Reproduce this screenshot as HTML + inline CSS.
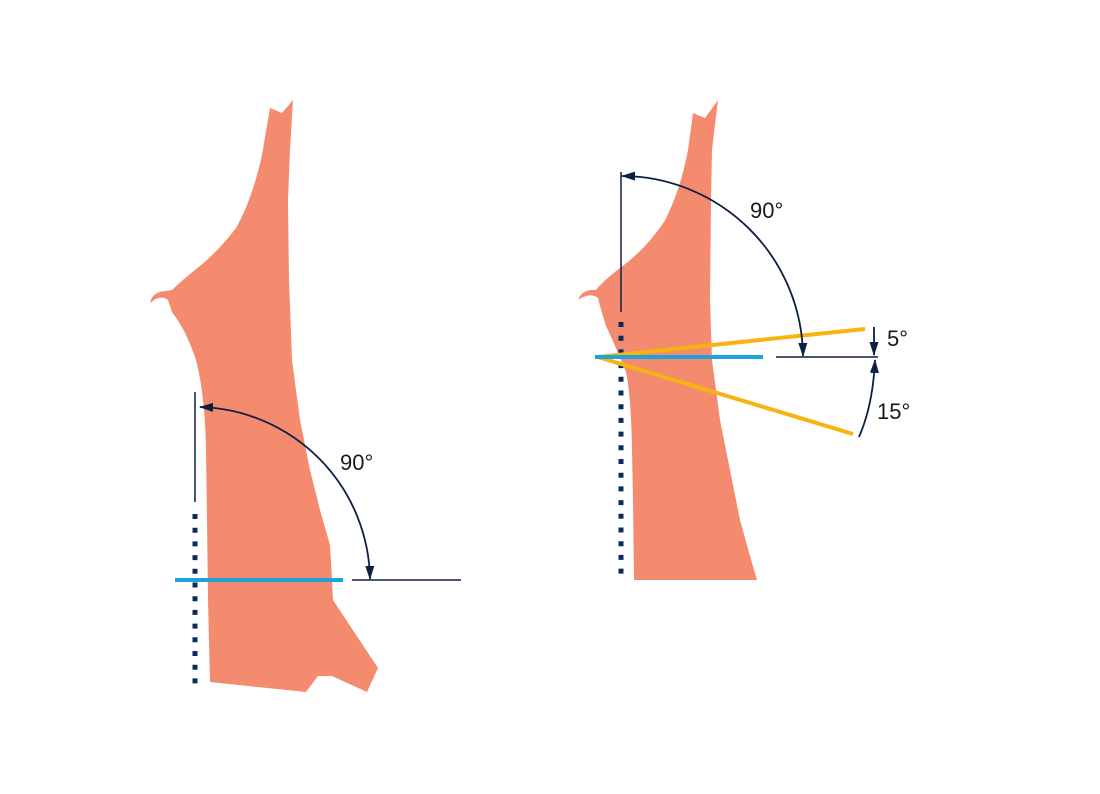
<!DOCTYPE html>
<html><head><meta charset="utf-8"><style>html,body{margin:0;padding:0;background:#fff}svg{display:block}</style></head>
<body>
<svg width="1100" height="794" viewBox="0 0 1100 794" xmlns="http://www.w3.org/2000/svg">
<defs>
<marker id="ah" viewBox="0 0 14 10" refX="13" refY="5" markerWidth="14" markerHeight="10" markerUnits="userSpaceOnUse" orient="auto-start-reverse"><path d="M0,0.5 L14,5 L0,9.5 Z" fill="#0d1f45"/></marker>
</defs>
<path fill="#f48b6e" d="M270,108 L282,113 L293,100 L290,150 L288,200 L289,280 L292,360 L300,420 L310,470 L320,510 L330,545 L332,580 L333,600 L378,668 L367,692 L332,676 L318,676 L306,692 L210,682 L208,600 L207,520 L206,450 Q205,395 196,360 Q186,330 172,312 L168,300 Q160,294 150,303 Q152,292 165,291 L172,290 Q180,282 195,270 Q218,252 236,228 Q252,200 262,155 Z"/>
<path fill="#f48b6e" d="M693,113 L705,118 L718,100 L712,150 L711,200 L710,300 L712,360 L720,420 L730,470 L740,520 L750,556 L757,580 L634,580 L633,500 L632,450 Q631,395 626,372 Q615,345 606,326 L600,306 L598,298 Q590,292 578,300 Q582,289 596,290 Q602,282 620,268 Q645,250 664,222 Q680,192 688,150 Z"/>
<line x1="195" y1="392" x2="195" y2="502" stroke="#0d1f45" stroke-width="1.5"/>
<line x1="195" y1="514" x2="195" y2="690" stroke="#0d2a5a" stroke-width="5" stroke-dasharray="5 8.7"/>
<line x1="175" y1="580" x2="343" y2="580" stroke="#1aa3dc" stroke-width="4"/>
<line x1="352" y1="580" x2="461" y2="580" stroke="#0d1f45" stroke-width="1.5"/>
<path d="M200,407 A175,175 0 0 1 370,579" fill="none" stroke="#0d1f45" stroke-width="1.8" marker-start="url(#ah)" marker-end="url(#ah)"/>
<text x="340" y="470" font-family="Liberation Sans, sans-serif" font-size="22" fill="#1a1a1a">90°</text>
<line x1="621" y1="172" x2="621" y2="312" stroke="#0d1f45" stroke-width="1.5"/>
<line x1="621" y1="322" x2="621" y2="580" stroke="#0d2a5a" stroke-width="5" stroke-dasharray="5 8.7"/>
<line x1="776" y1="357" x2="878" y2="357" stroke="#0d1f45" stroke-width="1.5"/>
<line x1="598" y1="357" x2="865" y2="329" stroke="#f7b30f" stroke-width="4"/>
<line x1="598" y1="357" x2="853" y2="434" stroke="#f7b30f" stroke-width="4"/>
<line x1="595" y1="357" x2="763" y2="357" stroke="#1aa3dc" stroke-width="4"/>
<path d="M622,176 A182,182 0 0 1 803,356" fill="none" stroke="#0d1f45" stroke-width="1.8" marker-start="url(#ah)" marker-end="url(#ah)"/>
<text x="750" y="218" font-family="Liberation Sans, sans-serif" font-size="22" fill="#1a1a1a">90°</text>
<line x1="874" y1="327" x2="874" y2="355" stroke="#0d1f45" stroke-width="1.8" marker-end="url(#ah)"/>
<path d="M859,437 Q873,405 875,360" fill="none" stroke="#0d1f45" stroke-width="1.8" marker-end="url(#ah)"/>
<text x="887" y="346" font-family="Liberation Sans, sans-serif" font-size="22" fill="#1a1a1a">5°</text>
<text x="877" y="419" font-family="Liberation Sans, sans-serif" font-size="22" fill="#1a1a1a">15°</text>
</svg>
</body></html>
